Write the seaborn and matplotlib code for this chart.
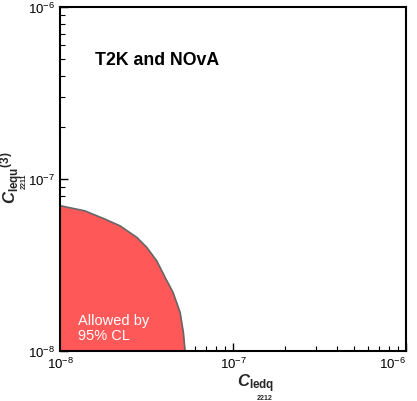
import numpy as np
import matplotlib
matplotlib.use("Agg")
import matplotlib.pyplot as plt
import seaborn as sns

# boundary of allowed region
c_ledq = [1.0e-8, 1.39e-8, 1.82e-8, 2.22e-8, 2.78e-8, 3.17e-8, 3.62e-8, 4.05e-8, 4.5e-8, 4.94e-8, 5.16e-8, 5.28e-8]
c_lequ = [7.0e-8, 6.54e-8, 5.85e-8, 5.35e-8, 4.58e-8, 4.01e-8, 3.35e-8, 2.68e-8, 2.19e-8, 1.68e-8, 1.28e-8, 1.0e-8]
lim_lo, lim_hi = 1e-8, 1e-6
major_ticks = [1e-8, 1e-7, 1e-6]
tick_labels = [r'$10^{-8}$', r'$10^{-7}$', r'$10^{-6}$']
title = "T2K and NOvA"
region_label = "Allowed by\n95% CL"

sns.set_theme(style="ticks")
plt.rcParams['font.family'] = ['Liberation Sans', 'DejaVu Sans']
plt.rcParams['mathtext.fontset'] = 'custom'
plt.rcParams['mathtext.rm'] = 'Liberation Sans'
plt.rcParams['mathtext.bf'] = 'Liberation Sans:bold'
plt.rcParams['mathtext.it'] = 'Liberation Sans:italic'
plt.rcParams['mathtext.bfit'] = 'Liberation Sans:italic:bold'

fig = plt.figure(figsize=(4.17, 4.02), dpi=100)
ax = fig.add_axes([0.144, 0.124, 0.830, 0.856])

ax.fill_between(c_ledq, c_lequ, lim_lo, color='#ff5858', linewidth=0)
sns.lineplot(x=c_ledq, y=c_lequ, sort=False, color='#666666', linewidth=1.2, ax=ax)

ax.set_xscale('log')
ax.set_yscale('log')
ax.set_xlim(lim_lo, lim_hi)
ax.set_ylim(lim_lo, lim_hi)
ax.set_xticks(major_ticks, tick_labels)
ax.set_yticks(major_ticks, tick_labels)

for s in ax.spines.values():
    s.set_color('black')
    s.set_linewidth(1.5)
ax.tick_params(which='both', direction='in', top=False, right=False, colors='black', labelsize=9.5)
ax.tick_params(which='major', length=6, width=1)
ax.tick_params(which='minor', length=3.5, width=0.8)

# keep the last x tick label inside the figure
for lab in ax.get_xticklabels():
    if '-6' in lab.get_text():
        lab.set_ha('right')

ax.text(0.101, 0.849, title, transform=ax.transAxes, fontsize=12.8,
        fontweight='bold', ha='left', va='center', color='black')
ax.text(0.052, 0.07, region_label, transform=ax.transAxes, fontsize=10.5,
        color='white', ha='left', va='center', linespacing=1.1)

# axis labels
fig.text(0.613, 0.045, r'$\mathbfit{C}_{\mathbf{ledq}}$', fontsize=12, ha='center', va='center')
fig.text(0.635, 0.009, '2212', fontsize=5, fontweight='bold', ha='center', va='center')
fig.text(0.029, 0.558, r'$\mathbfit{C}_{\mathbf{lequ}}{}^{\mathbf{(3)}}$', fontsize=12,
         ha='center', va='center', rotation=90)
fig.text(0.059, 0.549, '2211', fontsize=5, fontweight='bold', ha='center', va='center', rotation=90)

fig.savefig('out.png', dpi=100)
